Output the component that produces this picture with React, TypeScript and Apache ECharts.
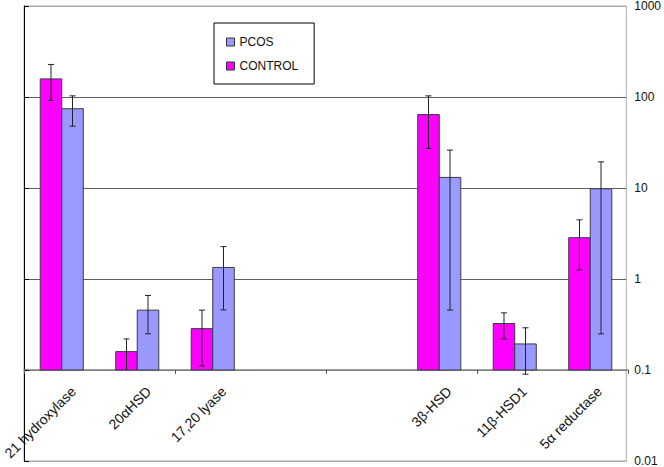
import React, { useEffect, useRef } from "react";
import * as echarts from "echarts";

const categories = ["21 hydroxylase", "20αHSD", "17,20 lyase", "", "", "3β-HSD", "11β-HSD1", "5α reductase"];
// null = no bar in that category
const controlValues = [155, 0.159, 0.284, null, null, 63, 0.323, 2.82];
const controlLow = [90, 0, 0.111, null, null, 26.8, 0.219, 1.25];
const controlHigh = [223, 0.219, 0.453, null, null, 101, 0.423, 4.42];
const pcosValues = [73, 0.453, 1.33, null, null, 12.9, 0.193, 9.68];
const pcosLow = [47, 0.249, 0.456, null, null, 0.453, 0.09, 0.249];
const pcosHigh = [101, 0.656, 2.25, null, null, 25.7, 0.29, 19.1];
const legendNames = ["PCOS", "CONTROL"];

const CONTROL_COLOR = "#FF00FF";
const PCOS_COLOR = "#9999FF";
const BASE = 0.1;

function buildData(vals: (number | null)[], lo: (number | null)[], hi: (number | null)[]) {
  const out: number[][] = [];
  vals.forEach((v, i) => {
    if (v == null) return;
    out.push([i, v, lo[i] as number, hi[i] as number]);
  });
  return out;
}

function makeRender(side: "left" | "right", color: string) {
  return (params: any, api: any) => {
    const i = api.value(0);
    const v = api.value(1);
    const lo = api.value(2);
    const hi = api.value(3);
    const band = api.coord([1, 1])[0] - api.coord([0, 1])[0];
    const bw = band * 0.285;
    const top = api.coord([i, v]);
    const base = api.coord([i, BASE]);
    const cx0 = top[0];
    const x0 = side === "left" ? cx0 - bw : cx0;
    const cx = x0 + bw / 2;
    const yHi = api.coord([i, hi])[1];
    const hasLo = lo > 0;
    const yLo = hasLo ? api.coord([i, lo])[1] : base[1];
    const cap = 3;
    const children: any[] = [
      {
        type: "rect",
        shape: { x: x0, y: top[1], width: bw, height: base[1] - top[1] },
        style: { fill: color, stroke: "#3a3a4a", lineWidth: 1 },
      },
      {
        type: "line",
        shape: { x1: cx, y1: yHi, x2: cx, y2: yLo },
        style: { stroke: "#222", lineWidth: 1 },
      },
      {
        type: "line",
        shape: { x1: cx - cap, y1: yHi, x2: cx + cap, y2: yHi },
        style: { stroke: "#222", lineWidth: 1 },
      },
    ];
    if (hasLo) {
      children.push({
        type: "line",
        shape: { x1: cx - cap, y1: yLo, x2: cx + cap, y2: yLo },
        style: { stroke: "#222", lineWidth: 1 },
      });
    }
    return { type: "group", children };
  };
}

export default function App() {
  const ref = useRef<HTMLDivElement>(null);
  useEffect(() => {
    if (!ref.current) return;
    const chart = echarts.init(ref.current, undefined, { renderer: "svg" });
    const font = "'Liberation Sans', Arial, sans-serif";
    chart.setOption({
      animation: false,
      backgroundColor: "#ffffff",
      textStyle: { fontFamily: font },
      legend: {
        data: legendNames,
        orient: "vertical",
        left: 214,
        top: 23,
        padding: [13, 16, 12, 12],
        itemGap: 12,
        itemWidth: 8,
        itemHeight: 8,
        icon: "rect",
        itemStyle: { borderColor: "#333", borderWidth: 1 },
        borderColor: "#000",
        borderWidth: 1,
        textStyle: { fontSize: 12, color: "#111", fontFamily: font },
      },
      grid: [
        { left: 24, right: 36, top: 5, bottom: 97 },
        { left: 24, right: 36, top: 5, bottom: 6, show: true, borderColor: "#aaaaaa", borderWidth: 1 },
        { left: 33, right: 27, top: 5, bottom: 97 },
      ],
      xAxis: [
        {
          gridIndex: 0,
          type: "category",
          data: categories,
          axisLine: { show: true, lineStyle: { color: "#808080", width: 1.5 } },
          axisTick: { show: true, length: 4, lineStyle: { color: "#555" } },
          axisLabel: { show: false },
          splitLine: { show: false },
        },
        { gridIndex: 1, type: "value", min: 0, max: 1, show: false },
        {
          gridIndex: 2,
          type: "category",
          data: categories,
          axisLine: { show: false },
          axisTick: { show: false },
          axisLabel: {
            rotate: 45,
            interval: 0,
            fontSize: 14,
            color: "#111",
            margin: 19,
            fontFamily: font,
          },
          splitLine: { show: false },
        },
      ],
      yAxis: [
        { gridIndex: 0, type: "log", logBase: 10, min: 0.1, max: 1000, show: false },
        {
          gridIndex: 1,
          type: "log",
          logBase: 10,
          min: 0.01,
          max: 1000,
          position: "right",
          axisLine: { show: true, lineStyle: { color: "#000", width: 1 } },
          axisTick: { show: true, inside: false, length: 5, lineStyle: { color: "#000" } },
          axisLabel: {
            fontSize: 12,
            color: "#111",
            margin: 8,
            fontFamily: font,
            formatter: (v: number) => String(+Number(v).toPrecision(3)),
          },
          splitLine: {
            show: true,
            lineStyle: { color: ["#aaaaaa", "#808080", "#606060", "#606060", "#606060", "#aaaaaa"], width: 1.2 },
          },
          minorTick: { show: false },
        },
        { gridIndex: 2, type: "value", show: false },
      ],
      series: [
        {
          name: "CONTROL",
          type: "custom",
          xAxisIndex: 0,
          yAxisIndex: 0,
          itemStyle: { color: CONTROL_COLOR },
          encode: { x: 0, y: 1 },
          renderItem: makeRender("left", CONTROL_COLOR),
          data: buildData(controlValues, controlLow, controlHigh),
          z: 5,
        },
        {
          name: "PCOS",
          type: "custom",
          xAxisIndex: 0,
          yAxisIndex: 0,
          itemStyle: { color: PCOS_COLOR },
          encode: { x: 0, y: 1 },
          renderItem: makeRender("right", PCOS_COLOR),
          data: buildData(pcosValues, pcosLow, pcosHigh),
          z: 5,
        },
      ],
    });
    return () => chart.dispose();
  }, []);
  return (
    <div
      ref={ref}
      style={{ position: "fixed", left: 0, top: 0, width: 664, height: 467, background: "#fff" }}
    />
  );
}
